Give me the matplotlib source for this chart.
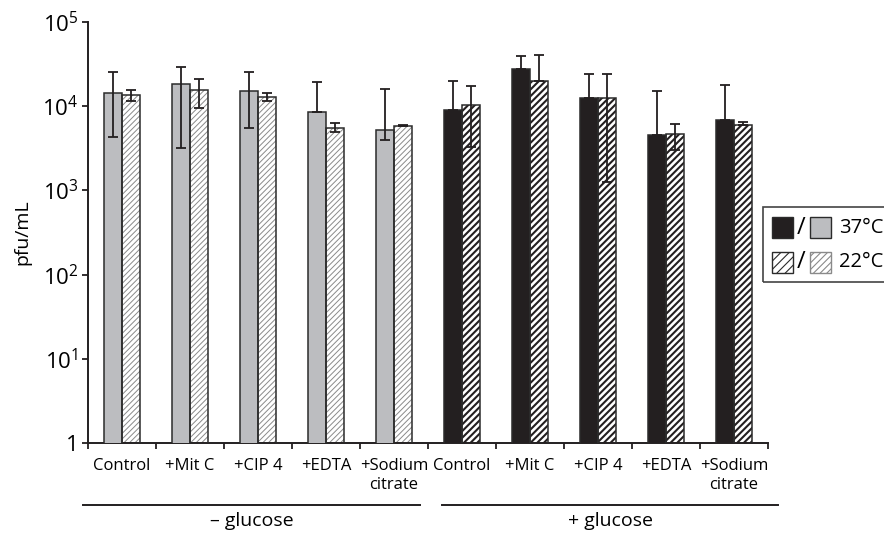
import matplotlib
matplotlib.use("Agg")
import matplotlib.pyplot as plt
import numpy as np
from matplotlib.lines import Line2D
from matplotlib.patches import Rectangle

plt.rcParams.update({
    "font.family": ["Open Sans", "DejaVu Sans"],
    "mathtext.default": "regular",
    "hatch.linewidth": 0.8,
    "axes.unicode_minus": False,
})

# ---- data (pfu/mL) ----
treatments = ["Control", "+Mit C", "+CIP 4", "+EDTA", "+Sodium\ncitrate"]
groups = ["\u2013 glucose", "+ glucose"]

# 37 °C bars: mean, upper and lower error bound
t37_mean = [14200, 18200, 15200, 8500, 5160, 9000, 27500, 12600, 4520, 6780]
t37_hi = [25800, 29000, 25800, 19200, 15800, 20000, 39600, 24000, 15200, 17800]
t37_lo = [4350, 3150, 5450, 8500, 3970, 9000, 27500, 12600, 4520, 6780]

# 22 °C bars
t22_mean = [13600, 15600, 12900, 5450, 5870, 10300, 20000, 12400, 4630, 5910]
t22_hi = [15600, 21300, 14200, 6330, 5970, 17400, 40500, 24000, 6100, 6540]
t22_lo = [11500, 9440, 11600, 4980, 5870, 3240, 20000, 1250, 3020, 5910]

GRAY = "#bcbdc0"
BLACK = "#231f20"
EDGE = "#2b2b2b"
W, H = 884, 534


def fx(px):
    return px / W


def fy(py):
    return 1 - py / H


def hatched(ax, x, h, w, hatch, hcolor, lw):
    bars = ax.bar(x, h, w, color="white", edgecolor=hcolor, hatch=hatch,
                  linewidth=0, zorder=2)
    for b in bars:
        if hasattr(b, "set_hatch_linewidth"):
            b.set_hatch_linewidth(lw)
    ax.bar(x, h, w, fill=False, edgecolor=EDGE, linewidth=1.1, zorder=3)


fig = plt.figure(figsize=(W / 100, H / 100), dpi=100)
ax = fig.add_axes([fx(88), fy(443), fx(768) - fx(88), fy(22) - fy(443)])

n = len(treatments)
x = np.arange(2 * n)
w = 0.272
m37 = np.array(t37_mean)
m22 = np.array(t22_mean)

# 37 °C solid bars: gray without glucose, black with glucose
colors37 = [GRAY] * n + [BLACK] * n
ax.bar(x - w / 2, m37, w, color=colors37, edgecolor=EDGE, linewidth=1.1,
       zorder=3)

# 22 °C hatched bars
hatched(ax, x[:n] + w / 2, m22[:n], w, "//////", "#8a8a8a", 0.7)
hatched(ax, x[n:] + w / 2, m22[n:], w, "/////", BLACK, 1.5)

err_kw = dict(fmt="none", ecolor=BLACK, elinewidth=1.3, capsize=3.4,
              capthick=1.3, zorder=4)
ax.errorbar(x - w / 2, m37, yerr=[m37 - np.array(t37_lo),
                                  np.array(t37_hi) - m37], **err_kw)
ax.errorbar(x + w / 2, m22, yerr=[m22 - np.array(t22_lo),
                                  np.array(t22_hi) - m22], **err_kw)

ax.set_yscale("log")
ax.set_ylim(1, 1e5)
ax.set_xlim(-0.5, 2 * n - 0.5)
ax.set_yticks([1, 10, 100, 1e3, 1e4, 1e5])
ax.set_yticklabels(["1", "$10^{1}$", "$10^{2}$", "$10^{3}$", "$10^{4}$",
                    "$10^{5}$"], fontsize=16)
ax.yaxis.set_minor_locator(matplotlib.ticker.NullLocator())
ax.tick_params(axis="y", length=4, width=1.3, color=BLACK, pad=3)

ax.set_xticks(x)
ax.set_xticklabels(treatments * 2, fontsize=12, linespacing=1.25)
ax.set_xticks(np.arange(-0.5, 2 * n, 1.0), minor=True)
ax.tick_params(axis="x", which="major", length=0, pad=11)
ax.tick_params(axis="x", which="minor", length=4, width=1.3, color=BLACK)

for s in ("top", "right"):
    ax.spines[s].set_visible(False)
for s in ("left", "bottom"):
    ax.spines[s].set_linewidth(1.4)
    ax.spines[s].set_color(BLACK)

ax.set_ylabel("pfu/mL", fontsize=14, labelpad=8)

# group brackets below the axis
for (x0, x1), label in zip([(83, 420), (442, 778)], groups):
    fig.add_artist(Line2D([fx(x0), fx(x1)], [fy(505), fy(505)],
                          color=BLACK, lw=1.4))
    fig.text(fx((x0 + x1) / 2), fy(521), label, ha="center", va="center",
             fontsize=14)

# legend box
fig.add_artist(Rectangle((fx(763), fy(282)), fx(140), fy(207) - fy(282),
                         fill=False, edgecolor="#444444", lw=1.2,
                         clip_on=False))
for row, (yc, txt) in enumerate([(228, "37\u00b0C"), (262, "22\u00b0C")]):
    s = 21
    for i, x0 in enumerate((772, 810)):
        rect = Rectangle((fx(x0), fy(yc + s / 2)), fx(s), fy(0) - fy(s),
                         edgecolor=EDGE, lw=1.0)
        if row == 0:
            rect.set_facecolor(BLACK if i == 0 else GRAY)
        else:
            rect.set_facecolor("white")
            rect.set_hatch("////" if i == 0 else "/////")
            if i == 1:
                rect.set_edgecolor("#8a8a8a")
        fig.add_artist(rect)
    fig.text(fx(801), fy(yc), "/", ha="center", va="center", fontsize=17)
    fig.text(fx(839), fy(yc), txt, ha="left", va="center", fontsize=14.5)

fig.savefig("out.png", dpi=100)
